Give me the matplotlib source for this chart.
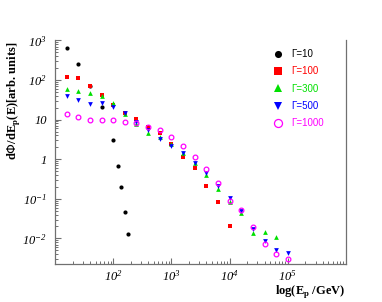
import matplotlib
matplotlib.use("Agg")
import matplotlib.pyplot as plt
from matplotlib.ticker import FixedLocator, FuncFormatter, NullFormatter
import numpy as np

# proton energy grid (GeV)
energy = [15.8, 25.1, 39.8, 63.1, 100, 158, 251, 398, 631, 1000,
          1585, 2512, 3981, 6310, 10000, 15849, 25119, 39811, 63096, 100000]

# Gamma = 10 (sharp cut-off, finer sampling near 100 GeV)
e_g10 = [16.1, 25.1, 39.8, 63.1, 100, 119.5, 134.5, 157.7, 181.7]
f_g10 = [631, 249, 70, 20.8, 3.05, 0.685, 0.195, 0.047, 0.0129]

f_g100 = [119, 114, 71.8, 41.8, 23.0, 14.9, 10.4, 6.62, 4.51, 2.42,
          1.17, 0.617, 0.214, 0.083, 0.0206]
f_g300 = [59.3, 52.8, 47.0, 38.8, 26.2, 14.1, 7.65, 4.67, 3.70, 2.42,
          1.43, 0.787, 0.399, 0.177, 0.0845, 0.043, 0.0137, 0.0148, 0.0107]
f_g500 = [39.5, 31.3, 24.8, 26.7, 21.2, 14.9, 8.85, 5.46, 3.18, 2.15,
          1.46, 0.816, 0.456, 0.214, 0.107, 0.050, 0.0176, 0.00875, 0.0050, 0.00436]
f_g1000 = [13.8, 11.8, 9.6, 9.6, 9.6, 8.69, 8.35, 6.62, 5.37, 3.57,
           2.19, 1.14, 0.559, 0.255, 0.0906, 0.0507, 0.0190, 0.0071, 0.00404, 0.00297]

labels = ['\u0393=10', '\u0393=100', '\u0393=300', '\u0393=500', '\u0393=1000']
colors = ['black', '#ff0000', '#00e000', '#0000ff', '#ff00ff']

fig = plt.figure(figsize=(3.82, 3.02), dpi=100)
ax = fig.add_axes([55 / 382, 38 / 302, 291 / 382, 223.6 / 302])

ax.plot(e_g10, f_g10, 'o', ms=3.0, color=colors[0], mew=0, label=labels[0], zorder=2)
ax.plot(energy[:len(f_g100)], f_g100, 's', ms=3.0, color=colors[1], mew=0, label=labels[1], zorder=3)
ax.plot(energy[:len(f_g300)], f_g300, '^', ms=3.4, color=colors[2], mew=0, label=labels[2], zorder=4)
ax.plot(energy[:len(f_g500)], f_g500, 'v', ms=3.4, color=colors[3], mew=0, label=labels[3], zorder=5)
ax.plot(energy[:len(f_g1000)], f_g1000, 'o', ms=3.4, mfc='none', mec=colors[4], mew=0.9,
        label=labels[4], zorder=6)

ax.set_xscale('log')
ax.set_yscale('log')
ax.set_xlim(10, 1e6)
ax.set_ylim(2.26e-3, 1e3)

# ROOT-like axes: no top frame, ticks pointing inwards
axis_col = '#707070'
ax.spines['top'].set_visible(False)
for s in ['left', 'bottom', 'right']:
    ax.spines[s].set_color(axis_col)
    ax.spines[s].set_linewidth(0.9)


def root_fmt(v, pos):
    n = int(round(np.log10(v)))
    if n == 0:
        return '1'
    if n == 1:
        return '10'
    return r'$\mathdefault{10^{%d}}$' % n


ax.xaxis.set_major_locator(FixedLocator([1e2, 1e3, 1e4, 1e5]))
ax.yaxis.set_major_locator(FixedLocator([1e-2, 1e-1, 1, 10, 1e2, 1e3]))
ax.xaxis.set_major_formatter(FuncFormatter(root_fmt))
ax.yaxis.set_major_formatter(FuncFormatter(root_fmt))
ax.xaxis.set_minor_formatter(NullFormatter())
ax.yaxis.set_minor_formatter(NullFormatter())
ax.tick_params(which='both', direction='in', color=axis_col, top=False, right=False)
ax.tick_params(which='major', length=4, width=0.8)
ax.tick_params(which='minor', length=2.2, width=0.7)
ax.tick_params(axis='x', pad=3.5)
ax.tick_params(axis='y', pad=6)
for lab in ax.get_xticklabels() + ax.get_yticklabels():
    lab.set_fontfamily('Liberation Serif')
    lab.set_fontstyle('italic')
    lab.set_fontsize(9)

ax.legend(loc='upper left', bbox_to_anchor=(0.72, 1.0), frameon=False,
          numpoints=1, labelcolor=colors, markerscale=1.7,
          handlelength=1.0, handletextpad=0.9, labelspacing=0.75,
          prop={'family': 'Liberation Sans', 'size': 7})

fig.text(14 / 382, 1 - 42 / 302, r'd$\Phi$/dE$_{\mathdefault{p}}$(E)[arb. units]',
         rotation=90, ha='center', va='top', fontsize=9, fontweight='bold',
         family='Liberation Serif')
fig.text(345 / 382, 1 - 294 / 302, r'log(E$_{\mathdefault{p}}$ /GeV)',
         ha='right', va='baseline', fontsize=9, fontweight='bold',
         family='Liberation Serif')

fig.savefig('out.png', dpi=100)
